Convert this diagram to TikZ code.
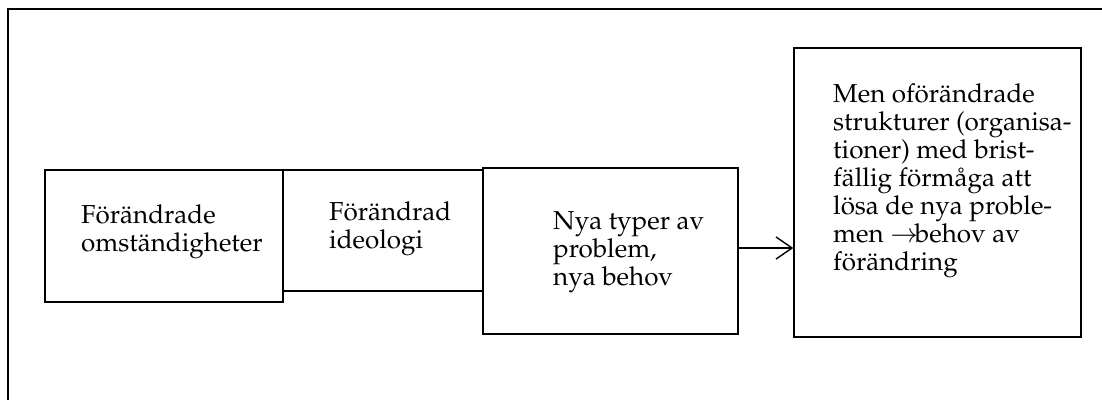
\documentclass[tikz,border=0pt]{standalone}
\usepackage[T1]{fontenc}
\usepackage{mathpazo}
\usetikzlibrary{arrows.meta}
\begin{document}
\begin{tikzpicture}[x=1pt,y=-1pt,
  box/.style={draw=black,line width=1.4pt,rectangle,inner sep=0pt},
  txt/.style={anchor=base west,inner sep=0pt,font=\fontsize{26}{28}\selectfont},
  frameline/.style={draw=black,line width=1.4pt},
  conn/.style={draw=black,line width=1.3pt,-{Straight Barb[length=16pt,width=22pt,line width=1.4pt]}}]
\useasboundingbox[fill=white] (0,0) rectangle (1102,400);
% outer frame (top and left edges)
\coordinate (fTL) at (8,9);
\coordinate (fTR) at (1102,9);
\coordinate (fBL) at (8,400);
\draw[frameline] (fTR) -- (fTL) -- (fBL);
% boxes
\node[box,minimum width=238pt,minimum height=132pt] (b1) at (164,236) {};
\node[box,minimum width=200pt,minimum height=121pt] (b2) at (383,230.5) {};
\node[box,minimum width=255pt,minimum height=166pt] (b3) at (610.5,251) {};
\node[box,minimum width=287pt,minimum height=289pt] (b4) at (937.5,192.5) {};
% texts
\node[txt] (t1) at (81,223) {\parbox[t]{200pt}{\raggedright F\"or\"andrade\\omst\"andigheter}};
\node[txt] (t2) at (329,220) {\parbox[t]{150pt}{\raggedright F\"or\"andrad\\ideologi}};
\node[txt] (t3) at (553,229) {\parbox[t]{180pt}{\raggedright Nya typer av\\problem,\\nya behov}};
\node[txt] (t4) at (833,102) {\parbox[t]{250pt}{\raggedright Men of\"or\"andrade\\strukturer (organisa-\\tioner) med brist-\\f\"allig f\"orm\aa ga att\\l\"osa de nya proble-\\men $\rightarrow$\kern-3pt behov av\\f\"or\"andring}};
% connector
\draw[conn] ([yshift=3pt]b3.east) -- ([yshift=3pt]b3.east -| b4.west);
\end{tikzpicture}
\end{document}
